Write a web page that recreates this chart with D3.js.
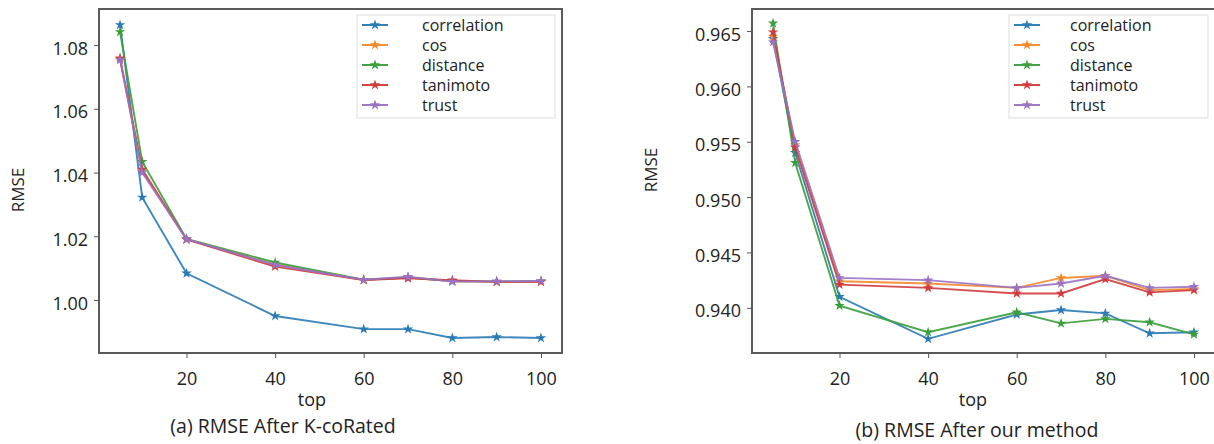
<!DOCTYPE html>
<html>
<head>
<meta charset="utf-8">
<script src="https://cdn.jsdelivr.net/npm/d3@7"></script>
<style>
  body { margin: 0; background: #fff; }
  text { font-family: "Open Sans", "DejaVu Sans", sans-serif; fill: #222; }
  .tick text { font-size: 18px; }
  .legend text { font-size: 16px; }
</style>
</head>
<body>
<div id="chart"></div>
<script>
// x values (the "top" parameter)
var tops = [5, 10, 20, 40, 60, 70, 80, 90, 100];
var seriesNames = ["correlation", "cos", "distance", "tanimoto", "trust"];
var colors = ["#2a7bb5", "#f5892a", "#3a9f3a", "#d23a3c", "#9a72c4"];

// (a) RMSE After K-coRated
var kCorrelation = [1.0863, 1.0322, 1.0084, 0.9950, 0.9909, 0.9909, 0.9881, 0.9884, 0.9881];
var kCos         = [1.0757, 1.0405, 1.0190, 1.0112, 1.0063, 1.0071, 1.0059, 1.0058, 1.0058];
var kDistance    = [1.0841, 1.0434, 1.0192, 1.0118, 1.0064, 1.0071, 1.0060, 1.0058, 1.0059];
var kTanimoto    = [1.0759, 1.0410, 1.0190, 1.0105, 1.0063, 1.0068, 1.0062, 1.0057, 1.0057];
var kTrust       = [1.0753, 1.0400, 1.0191, 1.0110, 1.0064, 1.0073, 1.0058, 1.0059, 1.0060];
var kTicks = [1.00, 1.02, 1.04, 1.06, 1.08];

// (b) RMSE After our method
var oCorrelation = [0.9643, 0.9540, 0.9410, 0.9372, 0.9394, 0.9398, 0.9395, 0.9377, 0.9378];
var oCos         = [0.9645, 0.9547, 0.9424, 0.9422, 0.9418, 0.9427, 0.9429, 0.9416, 0.9417];
var oDistance    = [0.9657, 0.9531, 0.9402, 0.9378, 0.9396, 0.9386, 0.9390, 0.9387, 0.9376];
var oTanimoto    = [0.9649, 0.9545, 0.9421, 0.9418, 0.9413, 0.9413, 0.9426, 0.9414, 0.9416];
var oTrust       = [0.9640, 0.9550, 0.9427, 0.9425, 0.9418, 0.9422, 0.9429, 0.9418, 0.9419];
var oTicks = [0.940, 0.945, 0.950, 0.955, 0.960, 0.965];

var xTicks = [20, 40, 60, 80, 100];

var W = 1214, H = 444;
var svg = d3.select("#chart").append("svg")
  .attr("width", W).attr("height", H)
  .style("background", "#fff");

var drawPanel = function(p) {
  var x = d3.scaleLinear().domain([0.25, 104.75]).range([p.left, p.right]);
  var y = d3.scaleLinear().domain(p.yDomain).range([353, 9]);
  var g = svg.append("g");

  // frame (matplotlib spines)
  g.append("rect")
    .attr("x", p.left).attr("y", 9)
    .attr("width", p.right - p.left).attr("height", 344)
    .attr("fill", "none").attr("stroke", "#5a5a5a").attr("stroke-width", 2);

  var xAxis = g.append("g")
    .attr("transform", "translate(0,353)")
    .call(d3.axisBottom(x).tickValues(xTicks).tickSize(5).tickPadding(14).tickFormat(d3.format("d")));
  xAxis.select(".domain").remove();
  xAxis.selectAll("line").attr("stroke", "#555");

  var yAxis = g.append("g")
    .attr("transform", "translate(" + p.left + ",0)")
    .call(d3.axisLeft(y).tickValues(p.ticks).tickSize(5).tickPadding(6).tickFormat(d3.format(p.fmt)));
  yAxis.select(".domain").remove();
  yAxis.selectAll("line").attr("stroke", "#555");
  yAxis.selectAll("text").attr("dy", "0.5em");

  var line = d3.line()
    .x(function(d, i) { return x(tops[i]); })
    .y(function(d) { return y(d); });

  var star = d3.symbol().type(d3.symbolStar).size(34);

  p.series.forEach(function(vals, s) {
    g.append("path")
      .datum(vals)
      .attr("d", line)
      .attr("fill", "none")
      .attr("stroke", colors[s])
      .attr("stroke-width", 1.9)
      .attr("stroke-opacity", 0.9);
    g.selectAll(null)
      .data(vals)
      .enter()
      .append("path")
      .attr("d", star)
      .attr("transform", function(d, i) { return "translate(" + x(tops[i]) + "," + y(d) + ")"; })
      .attr("fill", colors[s]);
  });

  // legend
  var lg = g.append("g").attr("class", "legend");
  lg.append("rect")
    .attr("x", p.legX).attr("y", 15)
    .attr("width", p.legW).attr("height", 103)
    .attr("fill", "#fff").attr("stroke", "#ddd");
  seriesNames.forEach(function(name, i) {
    var yy = 25 + i * 20;
    lg.append("line")
      .attr("x1", p.legX + 5).attr("x2", p.legX + 31)
      .attr("y1", yy).attr("y2", yy)
      .attr("stroke", colors[i]).attr("stroke-width", 1.9);
    lg.append("path")
      .attr("d", star)
      .attr("transform", "translate(" + (p.legX + 18) + "," + yy + ")")
      .attr("fill", colors[i]);
    lg.append("text")
      .text(name)
      .attr("x", p.legX + p.textOff)
      .attr("y", yy)
      .attr("dy", "0.35em");
  });

  // labels
  g.append("text")
    .text("top")
    .attr("text-anchor", "middle")
    .attr("x", p.topX).attr("y", 406)
    .style("font-size", "18px");

  g.append("text")
    .text("RMSE")
    .attr("text-anchor", "middle")
    .attr("transform", "translate(" + p.yLabX + "," + p.yLabY + ") rotate(-90)")
    .style("font-size", "17px");

  g.append("text")
    .text(p.caption)
    .attr("text-anchor", "middle")
    .attr("x", p.capX).attr("y", p.capY)
    .style("font-size", "19.5px");
};

drawPanel({
  left: 99, right: 562,
  yDomain: [0.9834, 1.0913],
  ticks: kTicks, fmt: ".2f",
  series: [kCorrelation, kCos, kDistance, kTanimoto, kTrust],
  legX: 357, legW: 198, textOff: 65,
  topX: 312, yLabX: 24, yLabY: 190,
  caption: "(a) RMSE After K-coRated", capX: 283, capY: 433
});

drawPanel({
  left: 752, right: 1215,
  yDomain: [0.93592, 0.96699],
  ticks: oTicks, fmt: ".3f",
  series: [oCorrelation, oCos, oDistance, oTanimoto, oTrust],
  legX: 1009, legW: 199, textOff: 61,
  topX: 973, yLabX: 657, yLabY: 170,
  caption: "(b) RMSE After our method", capX: 977, capY: 437
});
</script>
</body>
</html>
